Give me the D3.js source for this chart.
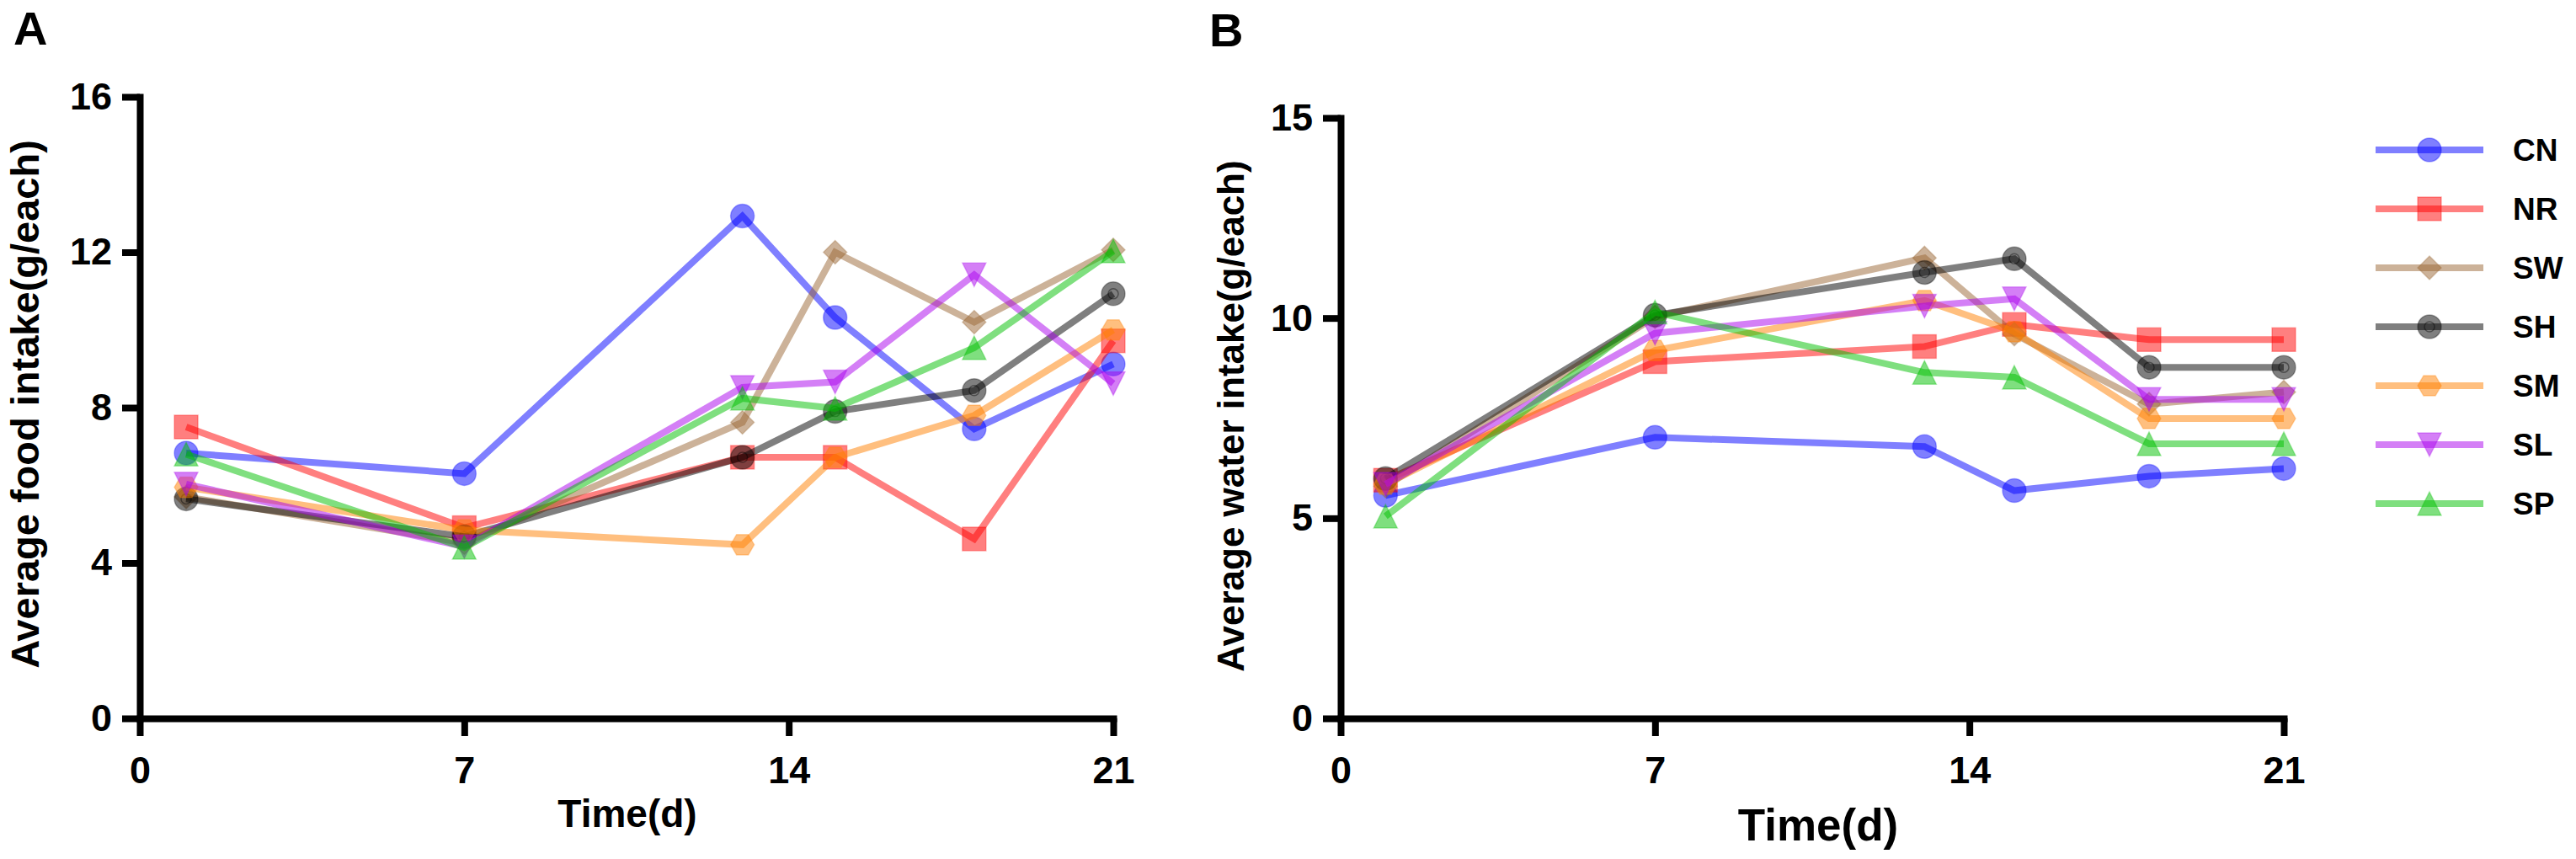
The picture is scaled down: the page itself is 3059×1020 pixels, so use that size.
<!DOCTYPE html>
<html>
<head>
<meta charset="utf-8">
<script src="https://d3js.org/d3.v7.min.js"></script>
<style>
    body { margin: 0; background: #ffffff; }
</style>
</head>
<body>
<div id="chart"></div>
<script>
var days = [1, 7, 13, 15, 18, 21];
var groups = ["CN", "NR", "SW", "SH", "SM", "SL", "SP"];
var colors = ["#0000ff", "#ff0000", "#996633", "#000000", "#ff8000", "#aa00ee", "#00c000"];
var shapes = ["circle", "square", "diamond", "ring", "hexagon", "triangleDown", "triangleUp"];

var xTicks = [0, 7, 14, 21];
var foodTicks = [0, 4, 8, 12, 16];
var waterTicks = [0, 5, 10, 15];

// Average food intake (g/each), panel A
var foodCN = [6.83, 6.30, 12.93, 10.32, 7.45, 9.12];
var foodNR = [7.50, 4.91, 6.72, 6.72, 4.62, 9.72];
var foodSW = [5.70, 4.52, 7.62, 12.00, 10.20, 12.06];
var foodSH = [5.65, 4.68, 6.72, 7.90, 8.44, 10.93];
var foodSM = [5.95, 4.85, 4.47, 6.72, 7.80, 10.00];
var foodSL = [6.03, 4.42, 8.52, 8.66, 11.42, 8.62];
var foodSP = [6.80, 4.40, 8.24, 7.98, 9.54, 12.03];

// Average water intake (g/each), panel B
var waterCN = [5.57, 7.02, 6.79, 5.69, 6.05, 6.24];
var waterNR = [5.95, 8.91, 9.29, 9.84, 9.46, 9.46];
var waterSW = [5.80, 10.03, 11.50, 9.60, 7.85, 8.15];
var waterSH = [5.99, 10.07, 11.14, 11.48, 8.77, 8.77];
var waterSM = [5.85, 9.19, 10.44, 9.66, 7.49, 7.49];
var waterSL = [5.85, 9.62, 10.30, 10.48, 7.97, 7.97];
var waterSP = [5.05, 10.15, 8.64, 8.52, 6.86, 6.86];

function init() {
    var w = 3059;
    var h = 1020;
    var font = "'Liberation Sans', Arial, sans-serif";
    var r = 14; // marker half size

    var svg = d3.select("#chart")
        .append("svg")
        .attr("width", w)
        .attr("height", h)
        .style("background", "#ffffff");

    function markerPath(shape) {
        var p = d3.path();
        if (shape == "circle" || shape == "ring") {
            p.moveTo(r, 0);
            p.arc(0, 0, r, 0, 2 * Math.PI);
        } else if (shape == "square") {
            p.rect(-r, -r, 2 * r, 2 * r);
        } else if (shape == "diamond") {
            p.moveTo(0, -r); p.lineTo(r, 0); p.lineTo(0, r); p.lineTo(-r, 0);
        } else if (shape == "hexagon") {
            for (var k = 0; k < 6; k++) {
                var a = k * Math.PI / 3;
                if (k == 0) p.moveTo(r * Math.cos(a), r * Math.sin(a));
                else p.lineTo(r * Math.cos(a), r * Math.sin(a));
            }
        } else if (shape == "triangleUp") {
            p.moveTo(0, -r); p.lineTo(r, r); p.lineTo(-r, r);
        } else if (shape == "triangleDown") {
            p.moveTo(0, r); p.lineTo(r, -r); p.lineTo(-r, -r);
        }
        p.closePath();
        return p.toString();
    }

    function drawMarker(g, i, cx, cy) {
        g.append("path")
            .attr("d", markerPath(shapes[i]))
            .attr("transform", "translate(" + cx + "," + cy + ")")
            .attr("fill", colors[i])
            .attr("fill-opacity", 0.5)
            .attr("stroke", colors[i])
            .attr("stroke-opacity", 0.3)
            .attr("stroke-width", 1.5);
        if (shapes[i] == "ring") {
            g.append("circle")
                .attr("cx", cx)
                .attr("cy", cy)
                .attr("r", 6)
                .attr("fill", "none")
                .attr("stroke", colors[i])
                .attr("stroke-opacity", 0.4)
                .attr("stroke-width", 1.5);
        }
    }

    function drawPanel(p) {
        var xScale = d3.scaleLinear()
            .domain([0, 21])
            .range([p.left, p.right]);

        var yScale = d3.scaleLinear()
            .domain([0, p.yMax])
            .range([p.bottom, p.top]);

        // lines and markers
        var line = d3.line()
            .x(function (d, i) { return xScale(days[i]); })
            .y(function (d) { return yScale(d); });

        p.series.forEach(function (values, i) {
            var g = svg.append("g");
            g.append("path")
                .attr("d", line(values))
                .attr("fill", "none")
                .attr("stroke", colors[i])
                .attr("stroke-opacity", 0.5)
                .attr("stroke-width", 8);
            values.forEach(function (v, j) {
                drawMarker(g, i, xScale(days[j]), yScale(v));
            });
        });

        // axes
        var xAxis = svg.append("g")
            .attr("transform", "translate(0," + p.bottom + ")")
            .call(d3.axisBottom(xScale)
                .tickValues(xTicks)
                .tickSize(21)
                .tickSizeOuter(0)
                .tickPadding(24));

        var yAxis = svg.append("g")
            .attr("transform", "translate(" + p.left + ",0)")
            .call(d3.axisLeft(yScale)
                .tickValues(p.yTicks)
                .tickSize(21)
                .tickSizeOuter(0)
                .tickPadding(12));

        [xAxis, yAxis].forEach(function (ax) {
            ax.attr("font-family", font)
                .attr("font-size", 45)
                .attr("font-weight", "bold");
            ax.select(".domain")
                .attr("stroke", "#000")
                .attr("stroke-width", 8)
                .attr("stroke-linecap", "square");
            ax.selectAll(".tick line")
                .attr("stroke", "#000")
                .attr("stroke-width", 8);
            ax.selectAll(".tick text")
                .attr("fill", "#000");
        });

        // panel letter
        svg.append("text")
            .attr("x", p.letterX)
            .attr("y", p.letterY)
            .attr("font-family", font)
            .attr("font-weight", "bold")
            .attr("font-size", 56)
            .text(p.letter);

        // x axis label
        svg.append("text")
            .attr("x", p.xLabelX)
            .attr("y", p.xLabelY)
            .attr("text-anchor", "middle")
            .attr("font-family", font)
            .attr("font-weight", "bold")
            .attr("font-size", p.xLabelSize)
            .text("Time(d)");

        // y axis label
        svg.append("text")
            .attr("transform", "translate(" + p.yLabelX + "," + p.yLabelY + ") rotate(-90)")
            .attr("text-anchor", "middle")
            .attr("font-family", font)
            .attr("font-weight", "bold")
            .attr("font-size", p.yLabelSize)
            .text(p.yLabel);
    }

    drawPanel({
        left: 166, right: 1322, top: 115, bottom: 853,
        yMax: 16, yTicks: foodTicks,
        series: [foodCN, foodNR, foodSW, foodSH, foodSM, foodSL, foodSP],
        letter: "A", letterX: 16, letterY: 53,
        xLabelX: 745, xLabelY: 982, xLabelSize: 46,
        yLabel: "Average food intake(g/each)", yLabelX: 46, yLabelY: 480, yLabelSize: 47
    });

    drawPanel({
        left: 1592, right: 2712, top: 140, bottom: 853,
        yMax: 15, yTicks: waterTicks,
        series: [waterCN, waterNR, waterSW, waterSH, waterSM, waterSL, waterSP],
        letter: "B", letterX: 1436, letterY: 55,
        xLabelX: 2159, xLabelY: 998, xLabelSize: 53,
        yLabel: "Average water intake(g/each)", yLabelX: 1477, yLabelY: 494, yLabelSize: 44
    });

    // legend
    var legend = svg.append("g");
    groups.forEach(function (name, i) {
        var ly = 178 + i * 70;
        legend.append("line")
            .attr("x1", 2821)
            .attr("x2", 2949)
            .attr("y1", ly)
            .attr("y2", ly)
            .attr("stroke", colors[i])
            .attr("stroke-opacity", 0.5)
            .attr("stroke-width", 8);
        drawMarker(legend, i, 2885, ly);
        legend.append("text")
            .attr("x", 2984)
            .attr("y", ly + 13)
            .attr("font-family", font)
            .attr("font-weight", "bold")
            .attr("font-size", 37)
            .text(name);
    });
}

window.onload = init;
</script>
</body>
</html>
